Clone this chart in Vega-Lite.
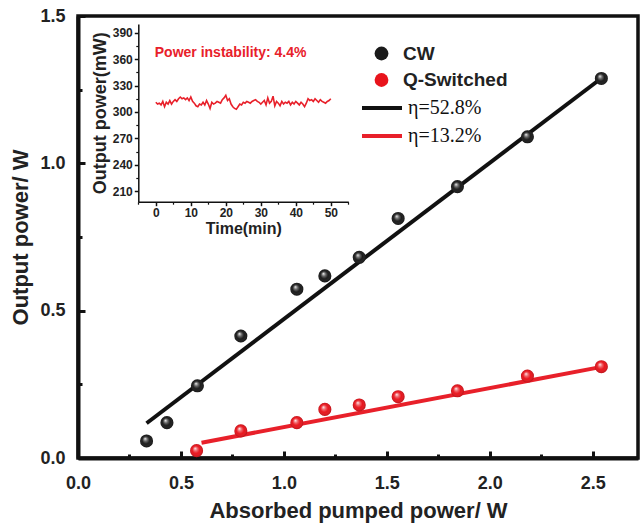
{
  "$schema": "https://vega.github.io/schema/vega-lite/v6.json",
  "width": 560,
  "height": 442,
  "autosize": {"type": "none"},
  "padding": {"left": 78, "top": 16, "right": 3, "bottom": 68},
  "config": {
    "view": {"stroke": "#111", "strokeWidth": 3.5},
    "font": "Liberation Sans",
    "axis": {"grid": false, "labelFlush": false, "labelFont": "Liberation Sans", "titleFont": "Liberation Sans", "labelFontWeight": "bold", "titleFontWeight": "bold", "labelColor": "#222", "titleColor": "#222", "domainColor": "#111", "tickColor": "#111"}
  },
  "datasets": {
    "pts": [
      {"series": "CW", "x": 0.333, "y": 0.058},
      {"series": "CW", "x": 0.432, "y": 0.12},
      {"series": "CW", "x": 0.58, "y": 0.245},
      {"series": "CW", "x": 0.791, "y": 0.414},
      {"series": "CW", "x": 1.063, "y": 0.573},
      {"series": "CW", "x": 1.199, "y": 0.618},
      {"series": "CW", "x": 1.366, "y": 0.681},
      {"series": "CW", "x": 1.555, "y": 0.813},
      {"series": "CW", "x": 1.843, "y": 0.921},
      {"series": "CW", "x": 2.183, "y": 1.09},
      {"series": "CW", "x": 2.542, "y": 1.288},
      {"series": "Q-Switched", "x": 0.576, "y": 0.025},
      {"series": "Q-Switched", "x": 0.791, "y": 0.092},
      {"series": "Q-Switched", "x": 1.063, "y": 0.12},
      {"series": "Q-Switched", "x": 1.199, "y": 0.165},
      {"series": "Q-Switched", "x": 1.366, "y": 0.18},
      {"series": "Q-Switched", "x": 1.555, "y": 0.208},
      {"series": "Q-Switched", "x": 1.843, "y": 0.228},
      {"series": "Q-Switched", "x": 2.183, "y": 0.278},
      {"series": "Q-Switched", "x": 2.542, "y": 0.31}
    ],
    "fits": [
      {"fit": "η=52.8%", "x": 0.333, "y": 0.118},
      {"fit": "η=52.8%", "x": 2.55, "y": 1.293},
      {"fit": "η=13.2%", "x": 0.6, "y": 0.052},
      {"fit": "η=13.2%", "x": 2.55, "y": 0.31}
    ],
    "note": [{"label": "Power instability: 4.4%"}],
    "stab": [
      {"t": 0, "v": 311}, {"t": 0.5, "v": 309}, {"t": 1, "v": 310}, {"t": 1.5, "v": 308}, {"t": 2, "v": 312}, {"t": 2.5, "v": 306},
      {"t": 3, "v": 311}, {"t": 3.5, "v": 309}, {"t": 4, "v": 313}, {"t": 4.5, "v": 309}, {"t": 5, "v": 312}, {"t": 5.5, "v": 314},
      {"t": 6, "v": 312}, {"t": 6.5, "v": 315}, {"t": 7, "v": 317}, {"t": 7.5, "v": 315}, {"t": 8, "v": 316}, {"t": 8.5, "v": 314},
      {"t": 9, "v": 316}, {"t": 9.5, "v": 313}, {"t": 10, "v": 317}, {"t": 10.5, "v": 312}, {"t": 11, "v": 310}, {"t": 11.5, "v": 307},
      {"t": 12, "v": 306}, {"t": 12.5, "v": 309}, {"t": 13, "v": 308}, {"t": 13.5, "v": 311}, {"t": 14, "v": 308}, {"t": 14.5, "v": 313},
      {"t": 15, "v": 309}, {"t": 15.5, "v": 304}, {"t": 16, "v": 311}, {"t": 16.5, "v": 309}, {"t": 17, "v": 310}, {"t": 17.5, "v": 312},
      {"t": 18, "v": 311}, {"t": 18.5, "v": 310}, {"t": 19, "v": 314}, {"t": 19.5, "v": 316}, {"t": 20, "v": 319}, {"t": 20.5, "v": 313},
      {"t": 21, "v": 315}, {"t": 21.5, "v": 309}, {"t": 22, "v": 306}, {"t": 22.5, "v": 304}, {"t": 23, "v": 303}, {"t": 23.5, "v": 306},
      {"t": 24, "v": 309}, {"t": 24.5, "v": 308}, {"t": 25, "v": 311}, {"t": 25.5, "v": 310}, {"t": 26, "v": 312}, {"t": 26.5, "v": 311},
      {"t": 27, "v": 310}, {"t": 27.5, "v": 312}, {"t": 28, "v": 313}, {"t": 28.5, "v": 314}, {"t": 29, "v": 312}, {"t": 29.5, "v": 311},
      {"t": 30, "v": 309}, {"t": 30.5, "v": 311}, {"t": 31, "v": 313}, {"t": 31.5, "v": 308}, {"t": 32, "v": 316}, {"t": 32.5, "v": 310},
      {"t": 33, "v": 312}, {"t": 33.5, "v": 318}, {"t": 34, "v": 307}, {"t": 34.5, "v": 312}, {"t": 35, "v": 310}, {"t": 35.5, "v": 307},
      {"t": 36, "v": 312}, {"t": 36.5, "v": 309}, {"t": 37, "v": 311}, {"t": 37.5, "v": 310}, {"t": 38, "v": 312}, {"t": 38.5, "v": 308},
      {"t": 39, "v": 311}, {"t": 39.5, "v": 309}, {"t": 40, "v": 312}, {"t": 40.5, "v": 310}, {"t": 41, "v": 308}, {"t": 41.5, "v": 311},
      {"t": 42, "v": 309}, {"t": 42.5, "v": 306}, {"t": 43, "v": 310}, {"t": 43.5, "v": 315}, {"t": 44, "v": 313}, {"t": 44.5, "v": 314},
      {"t": 45, "v": 312}, {"t": 45.5, "v": 315}, {"t": 46, "v": 313}, {"t": 46.5, "v": 311}, {"t": 47, "v": 314}, {"t": 47.5, "v": 312},
      {"t": 48, "v": 311}, {"t": 48.5, "v": 310}, {"t": 49, "v": 312}, {"t": 49.5, "v": 313}, {"t": 50, "v": 315}
    ]
  },
  "layer": [
    {
      "layer": [
        {
          "data": {"name": "fits"},
          "mark": {"type": "line", "strokeWidth": 4},
          "encoding": {
            "x": {"field": "x", "type": "quantitative", "scale": {"domain": [0, 2.72], "nice": false, "zero": false},
              "axis": {"orient": "bottom", "values": [0.25, 0.75, 1.25, 1.75, 2.25], "labels": false, "domain": false, "tickSize": -4, "tickWidth": 3, "title": null}},
            "y": {"field": "y", "type": "quantitative", "scale": {"domain": [0, 1.5], "nice": false, "zero": false},
              "axis": {"orient": "left", "values": [0.25, 0.75, 1.25], "labels": false, "domain": false, "tickSize": -4, "tickWidth": 3, "title": null}},
            "stroke": {"field": "fit", "type": "nominal", "scale": {"domain": ["η=52.8%", "η=13.2%"], "range": ["#111111", "#e8202a"]},
              "legend": {"orient": "none", "legendX": 282, "legendY": 82, "title": null, "padding": 0, "symbolType": "stroke", "symbolSize": 1600, "clipHeight": 20, "symbolStrokeWidth": 4, "labelFont": "Liberation Serif", "labelFontSize": 20, "labelColor": "#111", "rowPadding": 8, "labelOffset": 4}},
            "detail": {"field": "fit"}
          }
        },
        {
          "data": {"name": "pts"},
          "mark": {"type": "circle", "size": 170, "opacity": 1},
          "encoding": {
            "x": {"field": "x", "type": "quantitative", "scale": {"domain": [0, 2.72], "nice": false, "zero": false},
              "axis": {"orient": "bottom", "values": [0, 0.5, 1, 1.5, 2, 2.5], "format": ".1f", "tickSize": -7, "tickWidth": 3, "domainWidth": 4, "labelFontSize": 18, "labelPadding": 23, "title": "Absorbed pumped power/ W", "titleFontSize": 22, "titlePadding": 8}},
            "y": {"field": "y", "type": "quantitative", "scale": {"domain": [0, 1.5], "nice": false, "zero": false},
              "axis": {"orient": "left", "values": [0, 0.5, 1, 1.5], "format": ".1f", "tickSize": -7, "tickWidth": 3, "domainWidth": 4, "labelFontSize": 18, "labelPadding": 20, "title": "Output power/ W", "titleFontSize": 22, "titlePadding": 7}},
            "color": {"field": "series", "type": "nominal", "scale": {"domain": ["CW", "Q-Switched"], "range": ["#1a1a1a", "#e8141c"]},
              "legend": {"orient": "none", "legendX": 294, "legendY": 28, "title": null, "padding": 0, "symbolType": "circle", "symbolSize": 190, "labelFont": "Liberation Sans", "labelFontSize": 19, "labelFontWeight": "bold", "labelColor": "#222", "rowPadding": 6.5, "labelOffset": 12}}
          }
        },
        {
          "data": {"name": "pts"},
          "mark": {"type": "circle", "size": 170, "opacity": 1,
            "fill": {"gradient": "radial", "x1": 0.38, "y1": 0.32, "r1": 0, "x2": 0.5, "y2": 0.5, "r2": 0.5,
              "stops": [{"offset": 0, "color": "rgba(255,255,255,0.95)"}, {"offset": 0.3, "color": "rgba(255,255,255,0.35)"}, {"offset": 0.6, "color": "rgba(255,255,255,0)"}, {"offset": 1, "color": "rgba(0,0,0,0.2)"}]}},
          "encoding": {
            "x": {"field": "x", "type": "quantitative", "scale": {"domain": [0, 2.72], "nice": false, "zero": false}, "axis": null},
            "y": {"field": "y", "type": "quantitative", "scale": {"domain": [0, 1.5], "nice": false, "zero": false}, "axis": null}
          }
        }
      ],
      "resolve": {"axis": {"x": "independent", "y": "independent"}}
    },
    {
      "layer": [
        {
          "data": {"name": "stab"},
          "mark": {"type": "line", "color": "#e8202a", "strokeWidth": 1.6},
          "encoding": {
            "x": {"field": "t", "type": "quantitative", "scale": {"domain": [-5, 55], "range": [60.3, 270.3], "nice": false, "zero": false},
              "axis": {"orient": "bottom", "offset": -256.3, "values": [0, 10, 20, 30, 40, 50], "tickSize": 4, "tickWidth": 1.5, "domainWidth": 1.5, "labelFontSize": 12, "labelPadding": 2, "title": "Time(min)", "titleFontSize": 16, "titlePadding": 2}},
            "y": {"field": "v", "type": "quantitative", "scale": {"domain": [198, 400], "range": [185.7, 8], "nice": false, "zero": false},
              "axis": {"orient": "left", "offset": -60.3, "values": [210, 240, 270, 300, 330, 360, 390], "tickSize": 4, "tickWidth": 1.5, "domainWidth": 1.5, "labelFontSize": 12, "labelPadding": 2, "title": "Output power(mW)", "titleFontSize": 18, "titlePadding": 3}}
          }
        },
        {
          "data": {"name": "stab"},
          "mark": {"type": "line", "opacity": 0},
          "encoding": {
            "x": {"field": "t", "type": "quantitative", "scale": {"domain": [-5, 55], "range": [60.3, 270.3], "nice": false, "zero": false},
              "axis": {"orient": "bottom", "offset": -256.3, "values": [-5, 5, 15, 25, 35, 45, 55], "tickSize": 2.5, "tickWidth": 1.2, "labels": false, "domain": false, "title": null}},
            "y": {"field": "v", "type": "quantitative", "scale": {"domain": [198, 400], "range": [185.7, 8], "nice": false, "zero": false},
              "axis": {"orient": "left", "offset": -60.3, "values": [225, 255, 285, 315, 345, 375], "tickSize": 2.5, "tickWidth": 1.2, "labels": false, "domain": false, "title": null}}
          }
        },
        {
          "data": {"name": "note"},
          "mark": {"type": "text", "align": "left", "baseline": "middle", "color": "#e8202a", "fontSize": 14, "fontWeight": "bold", "font": "Liberation Sans"},
          "encoding": {
            "text": {"field": "label"},
            "x": {"datum": -0.3, "type": "quantitative", "scale": {"domain": [-5, 55], "range": [60.3, 270.3], "nice": false, "zero": false}, "axis": null},
            "y": {"datum": 367, "type": "quantitative", "scale": {"domain": [198, 400], "range": [185.7, 8], "nice": false, "zero": false}, "axis": null}
          }
        }
      ],
      "resolve": {"axis": {"x": "independent", "y": "independent"}}
    }
  ],
  "resolve": {"scale": {"x": "independent", "y": "independent"}}
}
